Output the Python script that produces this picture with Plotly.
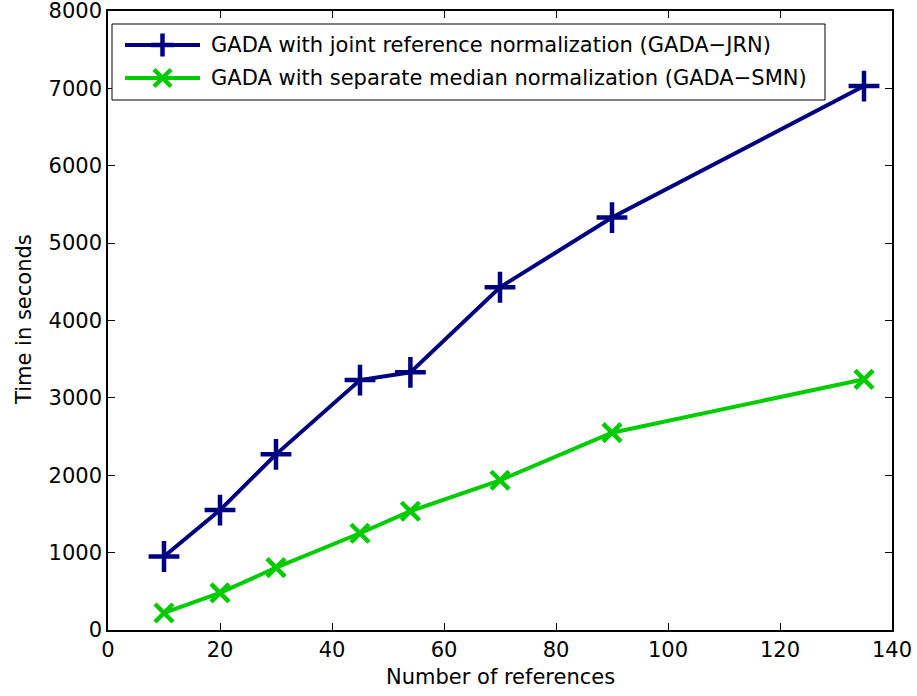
import plotly.graph_objects as go

# Number of references used for normalization
n_refs = [10, 20, 30, 45, 54, 70, 90, 135]

# Running time (seconds) for each normalization strategy
time_jrn = [950, 1550, 2270, 3230, 3330, 4430, 5330, 7030]
time_smn = [220, 480, 805, 1250, 1535, 1935, 2550, 3240]

series_names = [
    "GADA with joint reference normalization (GADA\u2212JRN)",
    "GADA with separate median normalization (GADA\u2212SMN)",
]
series_colors = ["#000080", "#00CC00"]

x_ticks = [0, 20, 40, 60, 80, 100, 120, 140]
y_ticks = [0, 1000, 2000, 3000, 4000, 5000, 6000, 7000, 8000]

W, H = 917, 696
ML, MR, MT, MB = 108, 25, 11, 66
font_family = "DejaVu Sans, Liberation Sans, Arial, sans-serif"
FS = 21


def px(xp, yp):
    """Convert figure pixel position to paper coordinates."""
    pw, ph = W - ML - MR, H - MT - MB
    return (xp - ML) / pw, 1 - (yp - MT) / ph


fig = go.Figure()
fig.add_trace(go.Scatter(
    x=n_refs, y=time_jrn, mode="lines+markers", name=series_names[0],
    line=dict(color=series_colors[0], width=4),
    marker=dict(symbol="cross-thin", size=22, line=dict(color=series_colors[0], width=4.5)),
    showlegend=False,
))
fig.add_trace(go.Scatter(
    x=n_refs, y=time_smn, mode="lines+markers", name=series_names[1],
    line=dict(color=series_colors[1], width=4),
    marker=dict(symbol="x-thin", size=18, line=dict(color=series_colors[1], width=4.5)),
    showlegend=False,
))

# Legend box with long line samples
shapes, annotations = [], []
x0, y0 = px(112, 24)
x1, y1 = px(825, 100)
shapes.append(dict(type="rect", xref="paper", yref="paper", x0=x0, y0=y0, x1=x1, y1=y1,
                   line=dict(color="black", width=1), fillcolor="white", layer="above"))
rows_y = [45, 78]
for i, (name, color) in enumerate(zip(series_names, series_colors)):
    ry = rows_y[i]
    lx0, ly = px(125, ry)
    lx1, _ = px(200, ry)
    shapes.append(dict(type="line", xref="paper", yref="paper", x0=lx0, y0=ly, x1=lx1, y1=ly,
                       line=dict(color=color, width=4), layer="above"))
    cx = 162.5
    if i == 0:
        a, b = px(cx - 11.5, ry)
        c, d = px(cx + 11.5, ry)
        shapes.append(dict(type="line", xref="paper", yref="paper", x0=a, y0=b, x1=c, y1=d,
                           line=dict(color=color, width=4.5), layer="above"))
        a, b = px(cx, ry - 11.5)
        c, d = px(cx, ry + 11.5)
        shapes.append(dict(type="line", xref="paper", yref="paper", x0=a, y0=b, x1=c, y1=d,
                           line=dict(color=color, width=4.5), layer="above"))
    else:
        r = 8.5
        for sgn in (1, -1):
            a, b = px(cx - r, ry - sgn * r)
            c, d = px(cx + r, ry + sgn * r)
            shapes.append(dict(type="line", xref="paper", yref="paper", x0=a, y0=b, x1=c, y1=d,
                               line=dict(color=color, width=4.5), layer="above"))
    tx, ty = px(209, ry)
    annotations.append(dict(xref="paper", yref="paper", x=tx, y=ty, text=name,
                            showarrow=False, xanchor="left", yanchor="middle",
                            font=dict(size=FS, color="black", family=font_family)))

# Axis titles
tx, ty = px(500, 677)
annotations.append(dict(xref="paper", yref="paper", x=tx, y=ty, text="Number of references",
                        showarrow=False, xanchor="center", yanchor="middle",
                        font=dict(size=FS, color="black", family=font_family)))
tx, ty = px(24, 320)
annotations.append(dict(xref="paper", yref="paper", x=tx, y=ty, text="Time in seconds",
                        textangle=-90, showarrow=False, xanchor="center", yanchor="middle",
                        font=dict(size=FS, color="black", family=font_family)))

axis_common = dict(
    showgrid=False, zeroline=False, showline=True, linecolor="black", linewidth=1.5,
    mirror="ticks", ticks="inside", ticklen=7, tickcolor="black", tickwidth=1,
    tickfont=dict(size=FS, color="black", family=font_family), automargin=False,
    ticklabeloverflow="allow",
)

fig.update_layout(
    width=W, height=H,
    margin=dict(l=ML, r=MR, t=MT, b=MB),
    paper_bgcolor="white", plot_bgcolor="white",
    font=dict(family=font_family, size=FS, color="black"),
    xaxis=dict(range=[0, 140], tickvals=x_ticks, **axis_common),
    yaxis=dict(range=[0, 8000], tickvals=y_ticks, **axis_common),
    shapes=shapes,
    annotations=annotations,
    showlegend=False,
)

fig.write_html("out.html")
